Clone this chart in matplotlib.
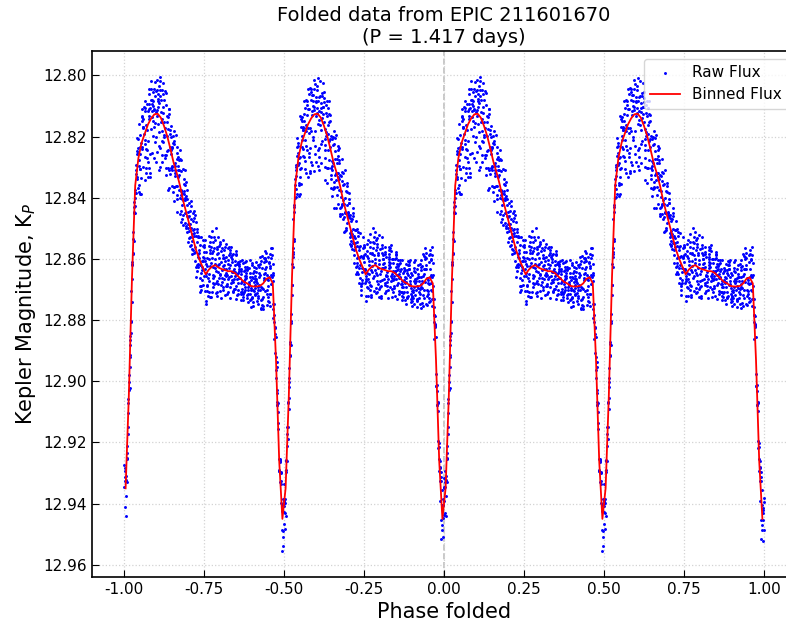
import numpy as np
import matplotlib.pyplot as plt

# folded K2 light curve, one half-cycle of binned values (phase bin centres 0.005..0.495)
bin_centres = [0.005, 0.015, 0.025, 0.035, 0.045, 0.055, 0.065, 0.075, 0.085, 0.095,
               0.105, 0.115, 0.125, 0.135, 0.145, 0.155, 0.165, 0.175, 0.185, 0.195,
               0.205, 0.215, 0.225, 0.235, 0.245, 0.255, 0.265, 0.275, 0.285, 0.295,
               0.305, 0.315, 0.325, 0.335, 0.345, 0.355, 0.365, 0.375, 0.385, 0.395,
               0.405, 0.415, 0.425, 0.435, 0.445, 0.455, 0.465, 0.475, 0.485, 0.495]
binned_mag = [12.935, 12.905, 12.866, 12.836, 12.827, 12.822, 12.819, 12.816, 12.814, 12.8127,
              12.8125, 12.8138, 12.8165, 12.8198, 12.824, 12.8285, 12.832, 12.836, 12.841, 12.845,
              12.849, 12.853, 12.857, 12.860, 12.8625, 12.865, 12.8635, 12.8625, 12.862, 12.8628,
              12.8633, 12.8636, 12.864, 12.864, 12.8645, 12.8655, 12.8665, 12.8675, 12.868, 12.8688,
              12.869, 12.869, 12.8688, 12.868, 12.8665, 12.866, 12.868, 12.893, 12.926, 12.945]

# spread of the raw points above (brighter) and below (fainter) the binned curve, per bin
raw_up = [0.008, 0.007, 0.007, 0.007, 0.012, 0.011, 0.013, 0.012, 0.013, 0.0127,
          0.0125, 0.0138, 0.0145, 0.014, 0.012, 0.0125, 0.012, 0.012, 0.012, 0.013,
          0.0115, 0.011, 0.011, 0.010, 0.0105, 0.011, 0.013, 0.013, 0.013, 0.012,
          0.011, 0.009, 0.009, 0.009, 0.008, 0.007, 0.007, 0.007, 0.008, 0.009,
          0.009, 0.009, 0.010, 0.011, 0.011, 0.011, 0.013, 0.007, 0.007, 0.009]
raw_down = [0.013, 0.008, 0.008, 0.010, 0.014, 0.016, 0.017, 0.018, 0.019, 0.019,
            0.0185, 0.018, 0.0175, 0.017, 0.016, 0.0145, 0.013, 0.012, 0.010, 0.008,
            0.007, 0.007, 0.009, 0.011, 0.0105, 0.010, 0.010, 0.010, 0.010, 0.010,
            0.010, 0.009, 0.009, 0.009, 0.009, 0.008, 0.007, 0.007, 0.007, 0.007,
            0.007, 0.007, 0.008, 0.009, 0.009, 0.009, 0.008, 0.007, 0.008, 0.013]

# fixed scatter pattern inside a bin (phase fraction, magnitude fraction)
jit_phase = [-0.42, 0.18, -0.05, 0.37, -0.28, 0.46, 0.09, -0.33, 0.24, -0.12,
             0.41, -0.47, 0.02, 0.31, -0.19, 0.13, -0.38, 0.49, -0.24, 0.07,
             0.28, -0.44, 0.35, -0.09, 0.16, -0.31, 0.44, -0.02, 0.21]
jit_mag = [0.95, -0.62, 0.31, -0.08, 0.72, -0.91, 0.15, 0.48, -0.35, 0.84,
           -0.22, 0.05, -0.74, 0.58, -0.48, 0.26, -0.15, 0.66, -0.83, 0.39,
           0.11, -0.55, 0.89, -0.29, 0.53, -0.03, 0.21, -0.68, 0.77, -0.41,
           0.34, -0.97, 0.62, -0.18, 0.44, -0.57, 0.02]

copies = [-2, -1, 0, 1]
bin_w = 0.01
per_bin = 15

centres = np.array(bin_centres)
bmag = np.array(binned_mag)
phase_line = np.concatenate([centres + 0.5 * k for k in copies])
mag_line = np.tile(bmag, len(copies))

raw_phase, raw_mag = [], []
for k in copies:
    shift = 0 if k % 2 == 0 else 11
    for i in range(len(centres)):
        for j in range(per_bin):
            p = centres[i] + 0.5 * k + jit_phase[(j + 3 * i + shift) % len(jit_phase)] * bin_w
            f = jit_mag[(j + 13 * i + shift) % len(jit_mag)]
            base = np.interp(p, phase_line, mag_line)
            m = base - f * raw_up[i] if f > 0 else base - f * raw_down[i]
            raw_phase.append(p)
            raw_mag.append(m)

fig = plt.figure(figsize=(7.86, 6.25), dpi=100)
ax = fig.add_axes([92 / 786, 48 / 625, 704 / 786, 526 / 625])

ax.scatter(raw_phase, raw_mag, s=4.5, c="blue", linewidths=0, label="Raw Flux", zorder=2)
ax.plot(phase_line, mag_line, color="red", lw=1.3, label="Binned Flux", zorder=3)
ax.axvline(0, color="gray", ls="--", lw=1.2, alpha=0.5, zorder=1)

ax.set_xlim(-1.1, 1.1)
ax.set_ylim(12.964, 12.792)
ax.set_xticks([-1.0, -0.75, -0.5, -0.25, 0.0, 0.25, 0.5, 0.75, 1.0])
ax.set_yticks([12.80, 12.82, 12.84, 12.86, 12.88, 12.90, 12.92, 12.94, 12.96])
ax.xaxis.set_major_formatter(plt.FormatStrFormatter("%.2f"))
ax.yaxis.set_major_formatter(plt.FormatStrFormatter("%.2f"))
ax.tick_params(direction="in", labelsize=11, length=5)
ax.grid(True, ls=":", color="lightgray", lw=0.9)
for s in ax.spines.values():
    s.set_linewidth(1.2)

ax.set_xlabel("Phase folded", fontsize=15)
ax.set_ylabel("Kepler Magnitude, K$_P$", fontsize=15)
ax.set_title("Folded data from EPIC 211601670\n(P = 1.417 days)", fontsize=14)
ax.legend(loc="upper right", fontsize=11)

fig.savefig("out.png", dpi=100)
